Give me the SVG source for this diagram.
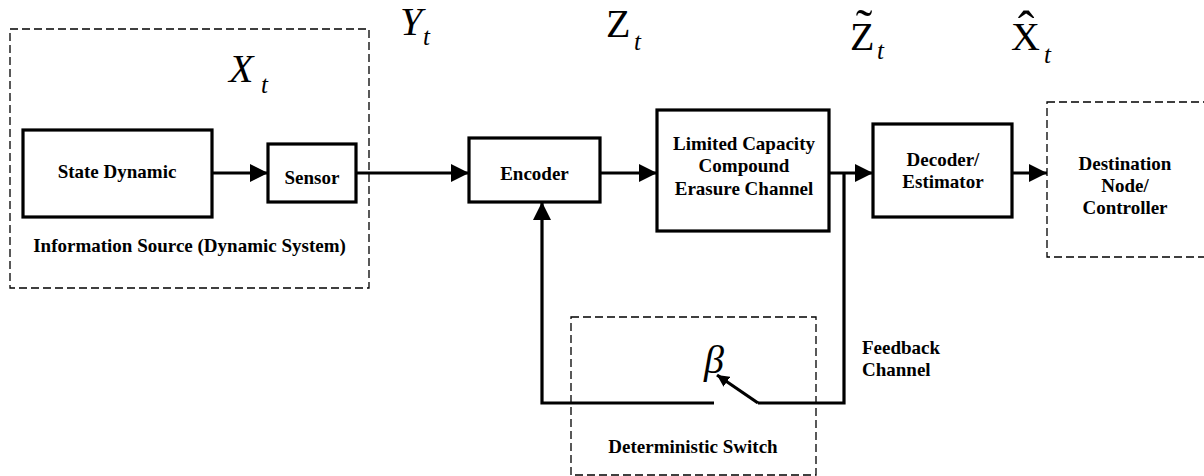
<svg xmlns="http://www.w3.org/2000/svg" width="1204" height="476" viewBox="0 0 1204 476" font-family="Liberation Serif, Times New Roman, serif">
<style>
.box{fill:#fff;stroke:#000;stroke-width:3.2}
.dash{fill:none;stroke:#000;stroke-width:1.3;stroke-dasharray:8 4}
.lbl{font-weight:bold;font-size:19px;fill:#000}
.m{font-style:italic;font-size:40px;fill:#000}
.mr{font-size:40px;fill:#000}
.sub{font-style:italic;font-size:25px;fill:#000}
.acc{font-size:50px;fill:#000}
.ln{fill:none;stroke:#000;stroke-width:3.2}
</style>
<defs>
<marker id="ah" markerUnits="userSpaceOnUse" markerWidth="20" markerHeight="18" refX="18" refY="9" orient="auto">
<path d="M0,0 L18,9 L0,18 Z" fill="#000"/>
</marker>
<marker id="ahs" markerUnits="userSpaceOnUse" markerWidth="14" markerHeight="12" refX="12" refY="6" orient="auto">
<path d="M0,0 L12,6 L0,12 Z" fill="#000"/>
</marker>
</defs>

<g id="source">
<rect class="dash" x="10" y="29" width="359" height="259"/>
<text class="lbl" x="189.5" y="252" text-anchor="middle" font-family="Liberation Serif">Information Source (Dynamic System)</text>
</g>
<g id="state-dynamic">
<rect class="box" x="23" y="130" width="189" height="87"/>
<text class="lbl" x="117" y="178" text-anchor="middle">State Dynamic</text>
</g>
<g id="sensor">
<rect class="box" x="268" y="144" width="88" height="58"/>
<text class="lbl" x="312" y="184" text-anchor="middle">Sensor</text>
</g>
<g id="encoder">
<rect class="box" x="469" y="138" width="131" height="64"/>
<text class="lbl" x="534.5" y="180" text-anchor="middle">Encoder</text>
</g>
<g id="channel">
<rect class="box" x="657" y="110" width="172" height="121"/>
<text class="lbl" x="744" y="150" text-anchor="middle">Limited Capacity</text>
<text class="lbl" x="744" y="172" text-anchor="middle">Compound</text>
<text class="lbl" x="744" y="195" text-anchor="middle">Erasure Channel</text>
</g>
<g id="decoder">
<rect class="box" x="873" y="124" width="139" height="93"/>
<text class="lbl" x="943" y="166" text-anchor="middle">Decoder/</text>
<text class="lbl" x="943" y="188" text-anchor="middle">Estimator</text>
</g>
<g id="destination">
<rect class="dash" x="1047" y="102" width="170" height="155"/>
<text class="lbl" x="1125" y="170" text-anchor="middle">Destination</text>
<text class="lbl" x="1125" y="192" text-anchor="middle">Node/</text>
<text class="lbl" x="1125" y="214" text-anchor="middle">Controller</text>
</g>
<g id="switch">
<rect class="dash" x="571" y="317" width="245" height="158"/>
<text class="lbl" x="693" y="453" text-anchor="middle">Deterministic Switch</text>
<text class="m" x="704" y="373">β</text>
</g>
<g id="feedback-label">
<text class="lbl" x="862" y="354">Feedback</text>
<text class="lbl" x="862" y="376">Channel</text>
</g>

<g id="signals">
<text class="m" x="400" y="35">Y</text><text class="sub" x="423" y="45">t</text>
<text class="mr" x="606" y="37">Z</text><text class="sub" x="634" y="50">t</text>
<text class="m" x="229" y="82">X</text><text class="sub" x="261" y="93">t</text>
<text class="mr" x="850" y="50">Z</text><text class="acc" x="864" y="44" text-anchor="middle">˜</text><text class="sub" x="877" y="59">t</text>
<text class="mr" x="1011" y="50">X</text><text class="acc" x="1026" y="46" text-anchor="middle">ˆ</text><text class="sub" x="1044" y="63">t</text>
</g>

<g id="connectors">
<line class="ln" x1="212" y1="173" x2="268" y2="173" marker-end="url(#ah)"/>
<line class="ln" x1="356" y1="173" x2="469" y2="173" marker-end="url(#ah)"/>
<line class="ln" x1="600" y1="173" x2="657" y2="173" marker-end="url(#ah)"/>
<line class="ln" x1="829" y1="173" x2="873" y2="173" marker-end="url(#ah)"/>
<line class="ln" x1="1012" y1="173" x2="1047" y2="173" marker-end="url(#ah)"/>
<polyline class="ln" points="844,173 844,403 758,403"/>
<line class="ln" x1="758" y1="403" x2="717" y2="375" stroke-width="2.8" marker-end="url(#ahs)"/>
<polyline class="ln" points="714,403 542,403 542,202" marker-end="url(#ah)"/>
</g>
</svg>
